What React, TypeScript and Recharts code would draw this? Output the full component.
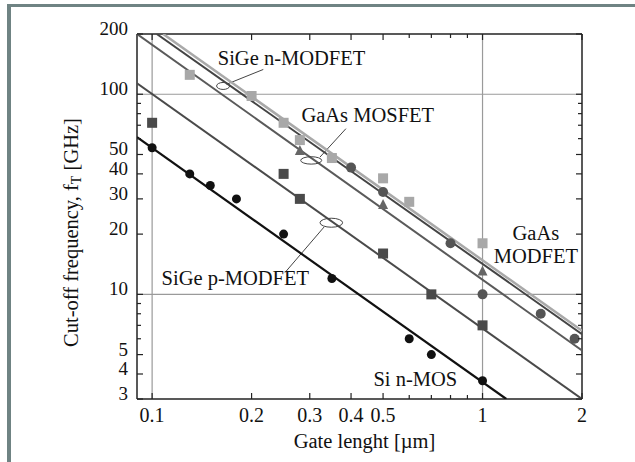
import React from "react";
import {
  ReferenceDot,
  ReferenceLine,
  Scatter,
  ScatterChart,
  XAxis,
  YAxis,
} from "recharts";

const siNmosX = [0.1, 0.13, 0.15, 0.18, 0.25, 0.35, 0.6, 0.7, 1];
const siNmosY = [54, 40, 35, 30, 20, 12, 6, 5, 3.7];
const sigePX = [0.1, 0.25, 0.28, 0.5, 0.7, 1];
const sigePY = [72, 40, 30, 16, 10, 7];
const gaasMosX = [0.28, 0.5, 1];
const gaasMosY = [52, 28, 13];
const gaasModX = [0.4, 0.5, 0.8, 1, 1.5, 1.9];
const gaasModY = [43, 32.5, 18, 10, 8, 6];
const sigeNX = [0.13, 0.2, 0.25, 0.28, 0.35, 0.5, 0.6, 1];
const sigeNY = [125, 98, 72, 59, 48, 38, 29, 18];

// fitted lines (end points)
const siNmosFitX = [0.09, 1.18];
const siNmosFitY = [61, 3];
const sigePFitX = [0.09, 2];
const sigePFitY = [113.5, 3];
const gaasMosFitX = [0.09, 2];
const gaasMosFitY = [200, 5.24];
const gaasModFitX = [0.1033, 2];
const gaasModFitY = [200, 6.33];
const sigeNFitX = [0.108, 2];
const sigeNFitY = [200, 6.58];

const xTicks = [0.1, 0.2, 0.3, 0.4, 0.5, 0.6, 0.7, 0.8, 0.9, 1, 2];
const xLabels = [0.1, 0.2, 0.3, 0.4, 0.5, 1, 2];
const yTicks = [3, 4, 5, 6, 7, 8, 9, 10, 20, 30, 40, 50, 60, 70, 80, 90, 100, 200];
const yLabels = [3, 4, 5, 10, 20, 30, 40, 50, 100, 200];
const gridX = [0.1, 1];
const gridY = [10, 100];

const pts = (xs: number[], ys: number[]) => xs.map((x, i) => ({ x, y: ys[i] }));

const FONT = "'Liberation Serif', 'Times New Roman', serif";
const INK = "#111";

type Side = "left" | "right" | "top" | "bottom";

const makeTick = (side: Side, labels: number[]) => (props: any) => {
  const { x, y, payload } = props;
  const v = payload.value;
  const major = labels.includes(v);
  const len = major ? 6 : 4;
  let line;
  if (side === "left") line = <line x1={x} y1={y} x2={x + len} y2={y} />;
  else if (side === "right") line = <line x1={x} y1={y} x2={x - len} y2={y} />;
  else if (side === "top") line = <line x1={x} y1={y} x2={x} y2={y + len} />;
  else line = <line x1={x} y1={y} x2={x} y2={y - len} />;
  let label = null;
  if (major && side === "left")
    label = (
      <text x={x - 9} y={y + 1} textAnchor="end" fontSize={19} fontFamily={FONT} fill={INK}>
        {v}
      </text>
    );
  if (major && side === "bottom")
    label = (
      <text x={x} y={y + 23} textAnchor="middle" fontSize={20} fontFamily={FONT} fill={INK}>
        {v}
      </text>
    );
  return (
    <g>
      <g stroke="#222" strokeWidth={1.2}>{line}</g>
      {label}
    </g>
  );
};

const square = (fill: string, s: number) => (p: any) =>
  <rect x={p.cx - s / 2} y={p.cy - s / 2} width={s} height={s} fill={fill} />;
const dot = (fill: string, r: number) => (p: any) =>
  <circle cx={p.cx} cy={p.cy} r={r} fill={fill} />;
const tri = (fill: string, s: number) => (p: any) =>
  <polygon
    points={`${p.cx},${p.cy - s * 0.6} ${p.cx - s / 2},${p.cy + s * 0.4} ${p.cx + s / 2},${p.cy + s * 0.4}`}
    fill={fill}
  />;
const noShape = () => <g />;

const note = (lines: string[], anchor: "start" | "middle" = "start") => (p: any) => (
  <text x={p.cx} y={p.cy} textAnchor={anchor} fontSize={20.5} fontFamily={FONT} fill={INK}>
    {lines.map((t, i) => (
      <tspan key={i} x={p.cx} dy={i === 0 ? 0 : 23}>
        {t}
      </tspan>
    ))}
  </text>
);
const ring = (rx: number, ry: number) => (p: any) =>
  <ellipse cx={p.cx} cy={p.cy} rx={rx} ry={ry} fill="none" stroke="#444" strokeWidth={1} />;

export default function App() {
  return (
    <div style={{ position: "absolute", left: 0, top: 0, width: 635, height: 462, background: "#fff" }}>
      <div
        style={{
          position: "absolute",
          left: 7,
          top: 4,
          right: 0,
          bottom: 0,
          borderLeft: "4px solid #6f8383",
          borderTop: "3px solid #6f8383",
        }}
      />
      <div style={{ position: "absolute", left: 0, top: 0 }}>
        <ScatterChart width={635} height={462} margin={{ top: 0, right: 0, bottom: 0, left: 0 }}>
          <XAxis
            dataKey="x"
            type="number"
            scale="log"
            domain={[0.09, 2]}
            allowDataOverflow
            ticks={xTicks}
            interval={0}
            height={63}
            tickSize={0}
            tickMargin={0}
            tickLine={false}
            axisLine={{ stroke: "#222", strokeWidth: 1.5 }}
            tick={makeTick("bottom", xLabels)}
            label={{
              content: (p: any) => {
                const vb = p.viewBox;
                return (
                  <text x={vb.x + vb.width / 2 + 5} y={vb.y + 49} textAnchor="middle" fontSize={20.5} fontFamily={FONT} fill={INK}>
                    Gate lenght [µm]
                  </text>
                );
              },
            }}
          />
          <XAxis
            xAxisId="t"
            orientation="top"
            dataKey="x"
            type="number"
            scale="log"
            domain={[0.09, 2]}
            allowDataOverflow
            ticks={xTicks}
            interval={0}
            height={34}
            tickSize={0}
            tickMargin={0}
            tickLine={false}
            axisLine={{ stroke: "#222", strokeWidth: 1.5 }}
            tick={makeTick("top", xLabels)}
          />
          <YAxis
            dataKey="y"
            type="number"
            scale="log"
            domain={[3, 200]}
            allowDataOverflow
            ticks={yTicks}
            interval={0}
            width={137}
            tickSize={0}
            tickMargin={0}
            tickLine={false}
            axisLine={{ stroke: "#222", strokeWidth: 1.5 }}
            tick={makeTick("left", yLabels)}
            label={{
              content: (p: any) => {
                const vb = p.viewBox;
                const cx = vb.x + 71;
                const cy = vb.y + vb.height / 2 + 16;
                return (
                  <text
                    x={cx}
                    y={cy}
                    transform={`rotate(-90, ${cx}, ${cy})`}
                    textAnchor="middle"
                    dominantBaseline="central"
                    fontSize={20.5}
                    fontFamily={FONT}
                    fill={INK}
                  >
                    Cut-off frequency, f
                    <tspan fontSize={14} dy={5}>T</tspan>
                    <tspan dy={-5}> [GHz]</tspan>
                  </text>
                );
              },
            }}
          />
          <YAxis
            yAxisId="r"
            orientation="right"
            dataKey="y"
            type="number"
            scale="log"
            domain={[3, 200]}
            allowDataOverflow
            ticks={yTicks}
            interval={0}
            width={53}
            tickSize={0}
            tickMargin={0}
            tickLine={false}
            axisLine={{ stroke: "#222", strokeWidth: 1.5 }}
            tick={makeTick("right", yLabels)}
          />

          {gridX.map((v) => (
            <ReferenceLine key={"gx" + v} x={v} stroke="#9a9a9a" strokeWidth={1.2} />
          ))}
          {gridY.map((v) => (
            <ReferenceLine key={"gy" + v} y={v} stroke="#9a9a9a" strokeWidth={1.2} />
          ))}

          <Scatter data={pts(siNmosFitX, siNmosFitY)} line={{ stroke: "#111", strokeWidth: 2.2 }} shape={noShape} isAnimationActive={false} />
          <Scatter data={pts(sigePFitX, sigePFitY)} line={{ stroke: "#4a4a4a", strokeWidth: 2 }} shape={noShape} isAnimationActive={false} />
          <Scatter data={pts(gaasMosFitX, gaasMosFitY)} line={{ stroke: "#5a5a5a", strokeWidth: 2 }} shape={noShape} isAnimationActive={false} />
          <Scatter data={pts(gaasModFitX, gaasModFitY)} line={{ stroke: "#444", strokeWidth: 2 }} shape={noShape} isAnimationActive={false} />
          <Scatter data={pts(sigeNFitX, sigeNFitY)} line={{ stroke: "#a9a9a9", strokeWidth: 2.5 }} shape={noShape} isAnimationActive={false} />

          <Scatter data={pts(siNmosX, siNmosY)} shape={dot("#111", 4.5)} isAnimationActive={false} />
          <Scatter data={pts(sigePX, sigePY)} shape={square("#4a4a4a", 10)} isAnimationActive={false} />
          <Scatter data={pts(gaasMosX, gaasMosY)} shape={tri("#666", 10)} isAnimationActive={false} />
          <Scatter data={pts(gaasModX, gaasModY)} shape={dot("#555", 5)} isAnimationActive={false} />
          <Scatter data={pts(sigeNX, sigeNY)} shape={square("#a8a8a8", 10)} isAnimationActive={false} />

          {/* annotations */}
          <ReferenceDot x={0.164} y={110} shape={ring(6.5, 3.5)} />
          <ReferenceLine segment={[{ x: 0.168, y: 112.2 }, { x: 0.217, y: 133 }]} stroke="#444" strokeWidth={1} />
          <ReferenceDot x={0.158} y={140} shape={note(["SiGe n-MODFET"])} />

          <ReferenceDot x={0.303} y={46.7} shape={ring(10.5, 3.7)} />
          <ReferenceLine segment={[{ x: 0.322, y: 48.5 }, { x: 0.386, y: 67.3 }]} stroke="#444" strokeWidth={1} />
          <ReferenceDot x={0.283} y={73} shape={note(["GaAs MOSFET"])} />

          <ReferenceDot x={0.3486} y={22.8} shape={ring(11.3, 4.5)} />
          <ReferenceLine segment={[{ x: 0.3314, y: 21.7 }, { x: 0.2524, y: 12.85 }]} stroke="#444" strokeWidth={1} />
          <ReferenceDot x={0.1068} y={11.2} shape={note(["SiGe p-MODFET"])} />

          <ReferenceDot x={1.45} y={18.7} shape={note(["GaAs", "MODFET"], "middle")} />
          <ReferenceDot x={0.4675} y={3.5} shape={note(["Si n-MOS"])} />
        </ScatterChart>
      </div>
    </div>
  );
}
